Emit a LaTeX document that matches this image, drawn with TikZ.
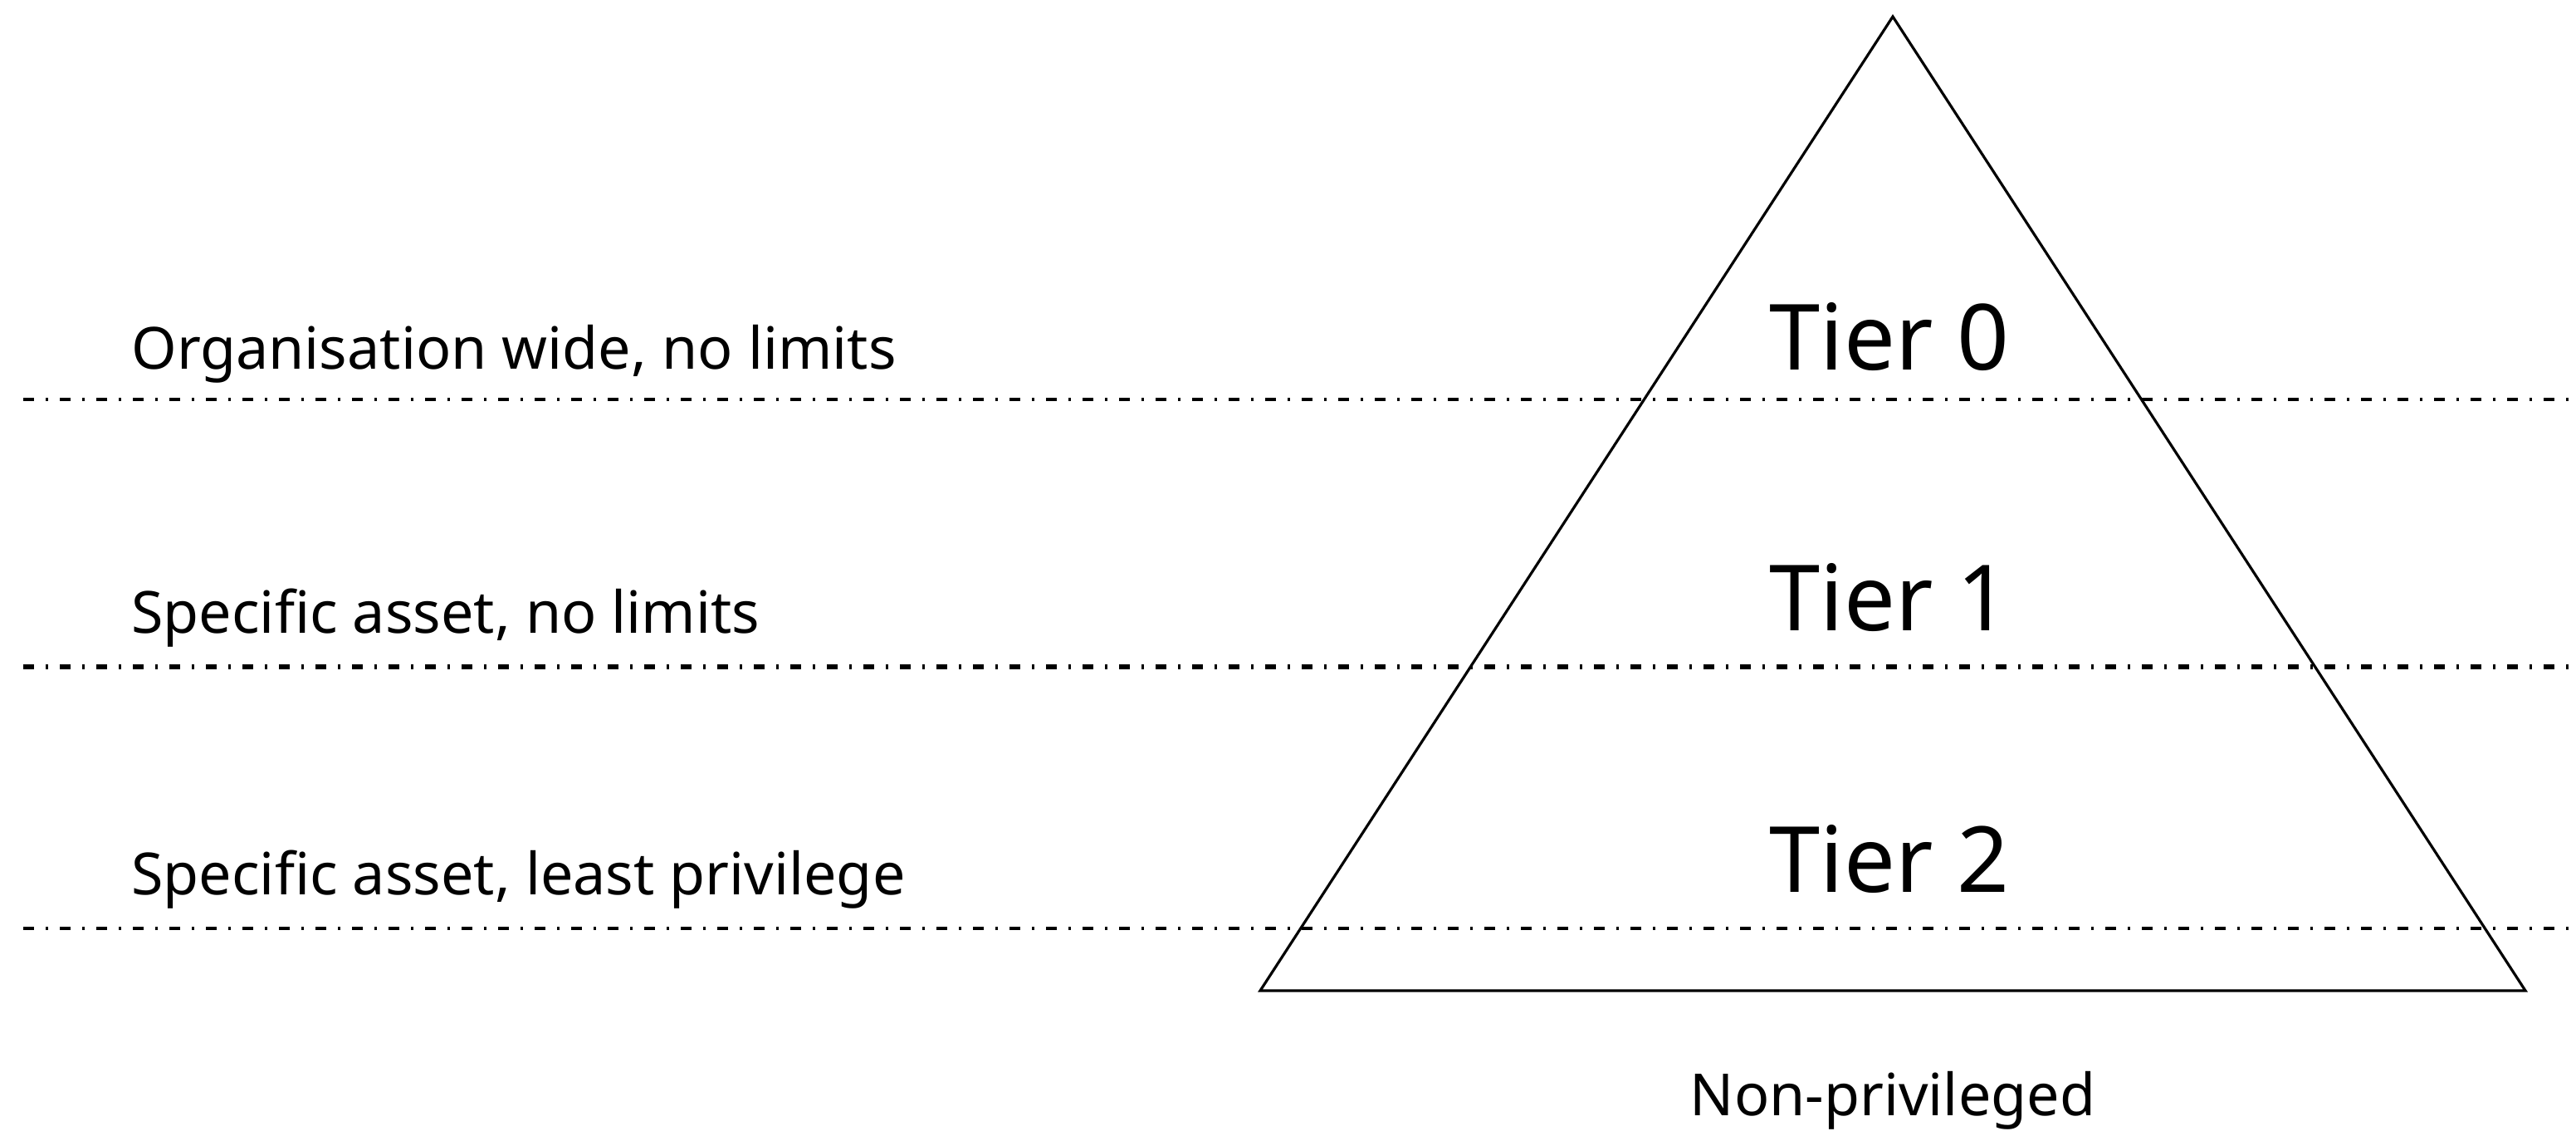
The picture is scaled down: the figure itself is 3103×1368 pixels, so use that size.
\documentclass[tikz,border=0pt]{standalone}
\usepackage{fontspec}
\setmainfont{Noto Sans}
\begin{document}
\begin{tikzpicture}[x=0.5pt,y=-0.5pt,
  tier/.style={font=\fontsize{55}{66}\selectfont, inner sep=0pt},
  lbl/.style={font=\fontsize{35}{42}\selectfont, anchor=base west, inner sep=0pt},
  sep/.style={line width=1.6pt, dash pattern=on 6.5pt off 7pt on 1.5pt off 7pt},
  septhick/.style={line width=2.8pt, dash pattern=on 6.5pt off 7pt on 1.5pt off 7pt},
  tri/.style={line width=1.6pt, line join=miter}]
\useasboundingbox (0,0) rectangle (3103,1368);
\coordinate (apex) at (2280,20);
\coordinate (bl) at (1518,1193);
\coordinate (br) at (3042,1193);
\draw[tri] (apex) -- (br) -- (bl) -- cycle;
\coordinate (l1s) at (28,481); \coordinate (l1e) at (3103,481);
\coordinate (l2s) at (28,803); \coordinate (l2e) at (3103,803);
\coordinate (l3s) at (28,1118); \coordinate (l3e) at (3103,1118);
\draw[sep] (l1s) -- (l1e);
\draw[septhick] (l2s) -- (l2e);
\draw[sep] (l3s) -- (l3e);
\node[lbl] (o) at (158,445) {Organisation wide, no limits};
\node[lbl] (s1) at (158,762) {Specific asset, no limits};
\node[lbl] (s2) at (158,1077) {Specific asset, least privilege};
\node[tier] (t0) at (2276,406) {Tier 0};
\node[tier] (t1) at (2276,720) {Tier 1};
\node[tier] (t2) at (2276,1035) {Tier 2};
\node[font=\fontsize{35}{42}\selectfont, inner sep=0pt] (np) at (2280,1325) {Non-privileged};
\end{tikzpicture}
\end{document}
